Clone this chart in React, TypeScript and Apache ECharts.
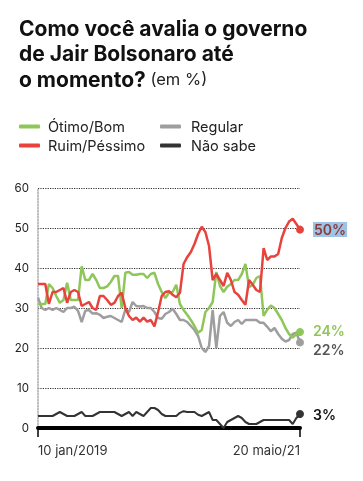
import React, { useEffect, useRef } from "react";
import * as echarts from "echarts";

const otimoBom = [
  31, 31, 31, 36, 35, 33, 31.3, 32, 36.3, 32,
  32, 32, 40.4, 37, 37, 38.5, 37, 35, 35, 35.4,
  36.5, 38, 38, 30, 38.8, 39, 38.3, 38.3, 38.5, 38.5,
  37.5, 38.5, 38.8, 36, 34, 32.5, 33.8, 34, 35.8, 31,
  29.5, 28.3, 27, 25.5, 23.8, 24.5, 29, 30, 31.5, 39,
  35.5, 34, 35.3, 36, 37, 37, 38.5, 41, 35.2, 35.8,
  37.5, 38, 28, 29.6, 30.6, 30, 28.5, 27, 25, 23.5,
  22.6, 23.5, 24,
];

const ruimPessimo = [
  36, 36, 36, 31, 34, 34, 34.5, 35, 31.3, 34,
  34.5, 34, 30.5, 31, 31.5, 30, 29.5, 33, 33, 32,
  30.8, 31.3, 33, 33.8, 30, 28, 27, 27.6, 26.6, 27.6,
  26.6, 27, 25.4, 29, 33, 34, 34.2, 33.3, 32.7, 33.8,
  41, 42.7, 44, 46, 48.5, 50.3, 49, 45.5, 37, 38.5,
  37, 35.5, 38.8, 37, 34, 33.3, 32, 30.8, 37, 35.8,
  34.5, 34, 45, 42, 42.9, 42.9, 43.5, 47.5, 50, 51.6,
  52.3, 51, 49.6,
];

const regular = [
  32.6, 30, 29.5, 30, 29.5, 30, 29.5, 29, 30, 30,
  30.3, 29.3, 26.5, 29.3, 29.5, 28.6, 28.7, 28.3, 27.5, 27.8,
  28, 27.5, 27, 26.5, 29.6, 29, 31.5, 30.5, 30.4, 30.5,
  30, 30, 29, 27.5, 27.3, 28.5, 29, 29.8, 28.5, 27,
  27, 26.5, 25.5, 24.5, 23, 20, 19, 20.5, 29.5, 20,
  28, 29, 26.3, 25.5, 26.5, 27, 26, 27, 27, 27,
  27, 26.3, 26.3, 25.3, 24.2, 25, 23.5, 22.3, 21.6, 22,
  23.5, 23.8, 21.4,
];

const naoSabe = [
  3, 3, 3, 3, 3, 3.5, 4, 3.5, 3, 3,
  3, 3.5, 4, 3, 3, 3, 3.5, 4, 4, 4,
  4, 4, 3.5, 3, 3.5, 4, 3, 4, 3.5, 3,
  4, 5, 5, 4.5, 3.5, 3, 3, 3, 3, 3.8,
  4.2, 4, 4, 4, 3.3, 3, 3.5, 4, 2, 2,
  1, 0, 1.5, 2, 2.5, 3, 2.5, 1.5, 1, 1,
  1, 1.5, 2, 2, 2, 2, 2, 2, 2, 2,
  1, 2.5, 3.5,
];

const firstDateLabel = "10 jan/2019";
const lastDateLabel = "20 maio/21";
const categories = otimoBom.map((_, i) => String(i));

const endLabels = { otimo: "24%", ruim: "50%", regular: "22%", nao: "3%" };
const yTicks = { min: 0, max: 60, interval: 10 };

const FONT = "Inter, 'Noto Sans', sans-serif";
const GREEN = "#8fc65a";
const RED = "#e8423d";
const GRAY = "#9e9e9e";
const DARK = "#333333";

const lastIdx = categories.length - 1;

function makeSeries(
  name: string,
  data: number[],
  color: string,
  width: number,
  labelText: string,
  labelStyle: any
) {
  return {
    type: "line",
    name,
    data: data.map((v, i) =>
      i === data.length - 1
        ? {
            value: v,
            symbol: "circle",
            symbolSize: 8,
            label: {
              show: true,
              position: "right",
              distance: 9,
              formatter: labelText,
              fontFamily: FONT,
              fontSize: 14,
              fontWeight: 600,
              ...labelStyle,
            },
          }
        : v
    ),
    symbol: "none",
    showAllSymbol: true,
    color,
    lineStyle: { color, width },
    itemStyle: { color },
    emphasis: { disabled: true },
  };
}

export default function App() {
  const ref = useRef<HTMLDivElement>(null);
  useEffect(() => {
    const chart = echarts.init(ref.current!, null, { renderer: "svg" });
    const option: any = {
      animation: false,
      title: {
        left: 19,
        top: 16,
        padding: 0,
        text:
          "{b|Como você avalia o governo}\n{b|de Jair Bolsonaro até}\n{b|o momento?}{s| (em %)}",
        textStyle: {
          rich: {
            b: { fontFamily: FONT, fontSize: 21, fontWeight: 700, color: "#111", lineHeight: 25.3 },
            s: { fontFamily: FONT, fontSize: 16.5, fontWeight: 400, color: "#222", lineHeight: 25.3 },
          },
        },
      },
      legend: [
        {
          data: ["Ótimo/Bom", "Ruim/Péssimo"],
          orient: "vertical",
          left: 19,
          top: 119,
          padding: 0,
          itemWidth: 21,
          itemHeight: 4,
          itemGap: 4,
          icon: "roundRect",
          selectedMode: false,
          textStyle: { fontFamily: FONT, fontSize: 14.5, lineHeight: 15, color: "#222", padding: [0, 0, 0, 3] },
        },
        {
          data: ["Regular", "Não sabe"],
          orient: "vertical",
          left: 160,
          top: 119,
          padding: 0,
          itemWidth: 21,
          itemHeight: 4,
          itemGap: 4,
          icon: "roundRect",
          selectedMode: false,
          textStyle: { fontFamily: FONT, fontSize: 14.5, lineHeight: 15, color: "#222", padding: [0, 0, 0, 5] },
        },
      ],
      grid: { left: 38, right: 63, top: 188, bottom: 53, containLabel: false },
      xAxis: {
        type: "category",
        data: categories,
        boundaryGap: false,
        axisLine: { show: true, lineStyle: { color: "#000", width: 4 } },
        axisTick: {
          show: true,
          interval: (i: number) => i === 0 || i === lastIdx,
          length: 9,
          lineStyle: { color: "#000", width: 1.5 },
        },
        axisLabel: {
          interval: (i: number) => i === 0 || i === lastIdx,
          formatter: (_v: string, i: number) => (i === 0 ? firstDateLabel : lastDateLabel),
          alignMinLabel: "left",
          alignMaxLabel: "right",
          margin: 15,
          fontFamily: FONT,
          fontSize: 13,
          color: "#333",
        },
        splitLine: { show: false },
      },
      yAxis: {
        type: "value",
        min: yTicks.min,
        max: yTicks.max,
        interval: yTicks.interval,
        axisLine: { show: true, lineStyle: { color: "#aaa", width: 1.5, type: "dotted" } },
        axisTick: { show: false },
        axisLabel: { fontFamily: FONT, fontSize: 11.5, color: "#222", margin: 9 },
        splitLine: { show: true, lineStyle: { color: "#333", width: 1.2, type: "dotted" } },
      },
      series: [
        makeSeries("Regular", regular, GRAY, 2.5, endLabels.regular, { color: "#555", offset: [0, 7] }),
        makeSeries("Ótimo/Bom", otimoBom, GREEN, 2.5, endLabels.otimo, { color: GREEN, offset: [0, -2] }),
        makeSeries("Ruim/Péssimo", ruimPessimo, RED, 2.5, endLabels.ruim, {
          color: "#8b3a3a",
          backgroundColor: "#9dc3e6",
          padding: [1, 1, 0, 1],
        }),
        makeSeries("Não sabe", naoSabe, DARK, 2, endLabels.nao, { color: "#111" }),
      ],
    };
    chart.setOption(option);
    return () => chart.dispose();
  }, []);
  return <div ref={ref} style={{ position: "fixed", left: 0, top: 0, width: 363, height: 481 }} />;
}
